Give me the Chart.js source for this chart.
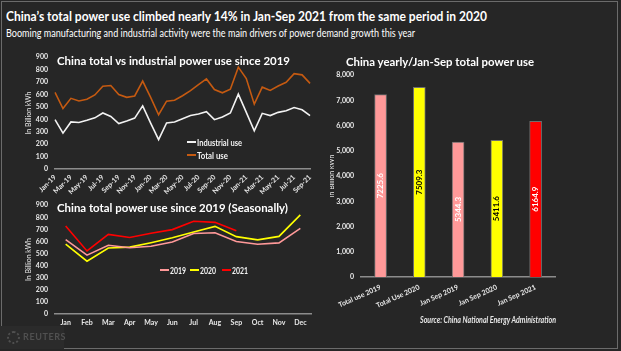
<!DOCTYPE html>
<html>
<head>
<meta charset="utf-8">
<script src="https://cdn.jsdelivr.net/npm/chart.js@4.4.0/dist/chart.umd.min.js"></script>
<style>
  html, body { margin: 0; padding: 0; background: #262626; }
  body { width: 621px; height: 351px; position: relative; overflow: hidden; font-family: Lato, "Open Sans", sans-serif; color: #fff; }
  .frame { position: absolute; left: 1px; top: 1px; width: 615px; height: 346px; border: 1px solid #6b6b6b; }
  .txt { position: absolute; white-space: nowrap; transform-origin: left center; line-height: 1; }
  canvas { position: absolute; }
  .leg-line { position: absolute; height: 2px; }
  .ytitle { position: absolute; white-space: nowrap; line-height: 1; font-size: 7px; color: #e8e8e8; transform: translate(-50%, -50%) rotate(-90deg); }
</style>
</head>
<body>
<div class="frame"></div>

<canvas id="c1" width="320" height="162" style="left:0; top:46px;"></canvas>
<canvas id="c2" width="320" height="150" style="left:0; top:194px;"></canvas>
<canvas id="c3" width="236" height="258" style="left:330px; top:58px;"></canvas>
<div style="position:absolute; left:330px; top:100px; width:8px; height:160px; overflow:hidden;">
  <div class="ytitle" style="left:1px; top:76px;">In Billion kWh</div>
</div>

<div class="txt" id="title" style="left:6px; top:9px; font-size:14px; font-weight:bold;">China’s total power use climbed nearly 14% in Jan-Sep 2021 from the same period in 2020</div>
<div class="txt" id="subtitle" style="left:6px; top:26.5px; font-size:11px;">Booming manufacturing and industrial activity were the main drivers of power demand growth this year</div>
<div class="txt" id="t1" style="left:57px; top:55px; font-size:11.5px; font-weight:bold;">China total vs industrial power use since 2019</div>
<div class="txt" id="t2" style="left:57px; top:202px; font-size:11.5px; font-weight:bold;">China total power use since 2019 (Seasonally)</div>
<div class="txt" id="t3" style="left:346px; top:56px; font-size:11.5px; font-weight:bold;">China yearly/Jan-Sep total power use</div>
<div class="txt" id="src" style="left:420px; top:316px; font-size:8.5px; font-weight:bold; font-style:italic; color:#e6e6e6;">Source: China National Energy Administration</div>

<div id="legends"></div>

<div style="position:absolute; left:0; top:326px; width:64px; height:23px; background:#2b2b2b;"></div>
<div style="position:absolute; left:7px; top:331px; width:9px; height:9px; border:2px dotted #505050; border-radius:50%;"></div>
<div class="txt" style="left:23px; top:332px; font-size:9px; font-weight:bold; letter-spacing:0.6px; color:#505050;">REUTERS</div>

<script>
// ---- data ----
const months = ["Jan", "Feb", "Mar", "Apr", "May", "Jun", "Jul", "Aug", "Sep", "Oct", "Nov", "Dec"];
const total2019 = [616, 487, 569, 548, 561, 596, 666, 672, 600, 577, 588, 708];
const total2020 = [577, 437, 546, 553, 590, 631, 679, 725, 640, 613, 642, 820];
const total2021 = [728, 522, 659, 633, 668, 698, 767, 758, 689];
const industrial2019 = [397, 289, 379, 374, 392, 412, 451, 423, 366, 387, 410, 508];
const industrial2020 = [370, 237, 371, 379, 405, 430, 443, 461, 397, 418, 451, 603];
const industrial2021 = [456, 307, 448, 430, 456, 469, 495, 477, 430];
const barCategories = ["Total use 2019", "Total Use 2020", "Jan Sep 2019", "Jan Sep 2020", "Jan Sep 2021"];
const barValues = [7225.6, 7509.3, 5344.3, 5411.6, 6164.9];
const barTicks = [0, 1000, 2000, 3000, 4000, 5000, 6000, 7000, 8000];

const monthLabels = [];
["19", "20", "21"].forEach((yy, k) => {
  const n = k < 2 ? 12 : 9;
  for (let i = 0; i < n; i++) monthLabels.push(months[i] + "-" + yy);
});
const totalUse = total2019.concat(total2020, total2021);
const industrialUse = industrial2019.concat(industrial2020, industrial2021);

const family = 'Lato, "Open Sans", sans-serif';
Chart.defaults.font.family = family;
const tickColor = "#e8e8e8";
const axisLine = { color: "#8c8c8c", width: 1.5 };
const noGrid = { display: false, drawTicks: false };
const tickFont = { size: 7, weight: "bold" };

// ---- top left: total vs industrial ----
new Chart(document.getElementById("c1"), {
  type: "line",
  data: {
    labels: monthLabels,
    datasets: [
      { label: "Industrial use", data: industrialUse, borderColor: "#f2f2f2", borderWidth: 1.6, pointRadius: 0, tension: 0 },
      { label: "Total use", data: totalUse, borderColor: "#c55a11", borderWidth: 1.6, pointRadius: 0, tension: 0 },
    ],
  },
  options: {
    responsive: false,
    animation: false,
    devicePixelRatio: 1,
    layout: { padding: { top: 7, right: 9, left: 0, bottom: 0 } },
    plugins: { legend: { display: false }, tooltip: { enabled: false } },
    scales: {
      x: {
        offset: false,
        grid: noGrid,
        border: axisLine,
        ticks: {
          color: tickColor, font: tickFont, autoSkip: false,
          maxRotation: 45, minRotation: 45, padding: 4,
          callback: (v, i) => (i % 2 === 0 ? monthLabels[i] : ""),
        },
        afterFit: (s) => { s.height = 39; },
      },
      y: {
        min: 0, max: 900,
        grid: noGrid,
        border: { display: false },
        ticks: { stepSize: 100, autoSkip: false, color: tickColor, font: tickFont, padding: 7 },
        title: { display: true, text: "In Billion kWh", color: tickColor, font: { size: 7 }, padding: { top: 25, bottom: 0 } },
        afterFit: (s) => { s.width = 55; },
      },
    },
  },
});

// ---- bottom left: seasonal ----
const seasonal = [
  { label: "2019", data: total2019, color: "#ff9999" },
  { label: "2020", data: total2020, color: "#ffff00" },
  { label: "2021", data: total2021, color: "#ff0000" },
];
new Chart(document.getElementById("c2"), {
  type: "line",
  data: {
    labels: months,
    datasets: seasonal.map((s) => ({
      label: s.label, data: s.data, borderColor: s.color, borderWidth: 1.6, pointRadius: 0, tension: 0,
    })),
  },
  options: {
    responsive: false,
    animation: false,
    devicePixelRatio: 1,
    layout: { padding: { top: 7, right: 9, left: 0, bottom: 0 } },
    plugins: { legend: { display: false }, tooltip: { enabled: false } },
    scales: {
      x: {
        offset: true,
        grid: noGrid,
        border: axisLine,
        ticks: { color: tickColor, font: tickFont, maxRotation: 0, autoSkip: false, padding: 5 },
        afterFit: (s) => { s.height = 30; },
      },
      y: {
        min: 0, max: 900,
        grid: noGrid,
        border: { display: false },
        ticks: { stepSize: 100, autoSkip: false, color: tickColor, font: tickFont, padding: 7 },
        title: { display: true, text: "In Billion kWh", color: tickColor, font: { size: 7 }, padding: { top: 25, bottom: 0 } },
        afterFit: (s) => { s.width = 55; },
      },
    },
  },
});

// ---- right: yearly / Jan-Sep bars ----
const barColors = ["#ff9999", "#ffff00", "#ff9999", "#ffff00", "#ff0000"];
const barLabelColors = ["#ffffff", "#000000", "#ffffff", "#000000", "#ffffff"];

const barLabels = {
  id: "barLabels",
  afterDatasetsDraw(chart) {
    const ctx = chart.ctx;
    chart.getDatasetMeta(0).data.forEach((bar, i) => {
      ctx.save();
      ctx.translate(bar.x, (bar.y + bar.base) / 2);
      ctx.rotate(-Math.PI / 2);
      ctx.fillStyle = barLabelColors[i];
      ctx.font = "bold 8px " + family;
      ctx.textAlign = "center";
      ctx.textBaseline = "middle";
      ctx.fillText(barValues[i].toFixed(1), 0, 0);
      ctx.restore();
    });
  },
};

new Chart(document.getElementById("c3"), {
  type: "bar",
  data: {
    labels: barCategories,
    datasets: [{
      data: barValues,
      backgroundColor: barColors,
      borderColor: "#6e6e6e",
      borderWidth: 1,
      barThickness: 12,
    }],
  },
  options: {
    responsive: false,
    animation: false,
    devicePixelRatio: 1,
    layout: { padding: { top: 17, right: 11, left: 0, bottom: 0 } },
    plugins: { legend: { display: false }, tooltip: { enabled: false } },
    scales: {
      x: {
        grid: noGrid,
        border: axisLine,
        ticks: { color: tickColor, font: tickFont, maxRotation: 24, minRotation: 24, autoSkip: false, padding: 6 },
        afterFit: (s) => { s.height = 39; },
      },
      y: {
        min: barTicks[0], max: barTicks[barTicks.length - 1],
        grid: noGrid,
        border: { display: false },
        ticks: { stepSize: 1000, autoSkip: false, color: tickColor, font: tickFont, padding: 7,
                 callback: (v) => v.toLocaleString("en-US") },
        afterBuildTicks: (s) => { s.ticks = barTicks.map((v) => ({ value: v })); },
        afterFit: (s) => { s.width = 29; },
      },
    },
  },
  plugins: [barLabels],
});

// ---- legends ----
const legendBox = document.getElementById("legends");
function addLegend(x, y, color, text, lineW, textW) {
  const line = document.createElement("div");
  line.className = "leg-line";
  line.style.cssText = `left:${x}px; top:${y - 1}px; width:${lineW}px; background:${color};`;
  legendBox.appendChild(line);
  const t = document.createElement("div");
  t.className = "txt";
  t.style.cssText = `left:${x + lineW + 1}px; top:${y - 4.5}px; font-size:9px; font-weight:bold; color:#f2f2f2;`;
  t.textContent = text;
  legendBox.appendChild(t);
  const r = t.getBoundingClientRect().width;
  t.style.transform = `scaleX(${textW / r})`;
}
addLegend(187, 142, "#f2f2f2", "Industrial use", 9, 45);
addLegend(187, 155, "#c55a11", "Total use", 9, 31);
[160, 190, 222].forEach((x, i) => addLegend(x, 270, seasonal[i].color, seasonal[i].label, 9, 16));

// squeeze text to the reference widths
function fitText(id, w) {
  const el = document.getElementById(id);
  const r = el.getBoundingClientRect().width;
  el.style.transform = `scaleX(${w / r})`;
}
fitText("title", 481);
fitText("subtitle", 409);
fitText("t1", 233);
fitText("t2", 231);
fitText("t3", 188);
fitText("src", 136);
</script>
</body>
</html>
